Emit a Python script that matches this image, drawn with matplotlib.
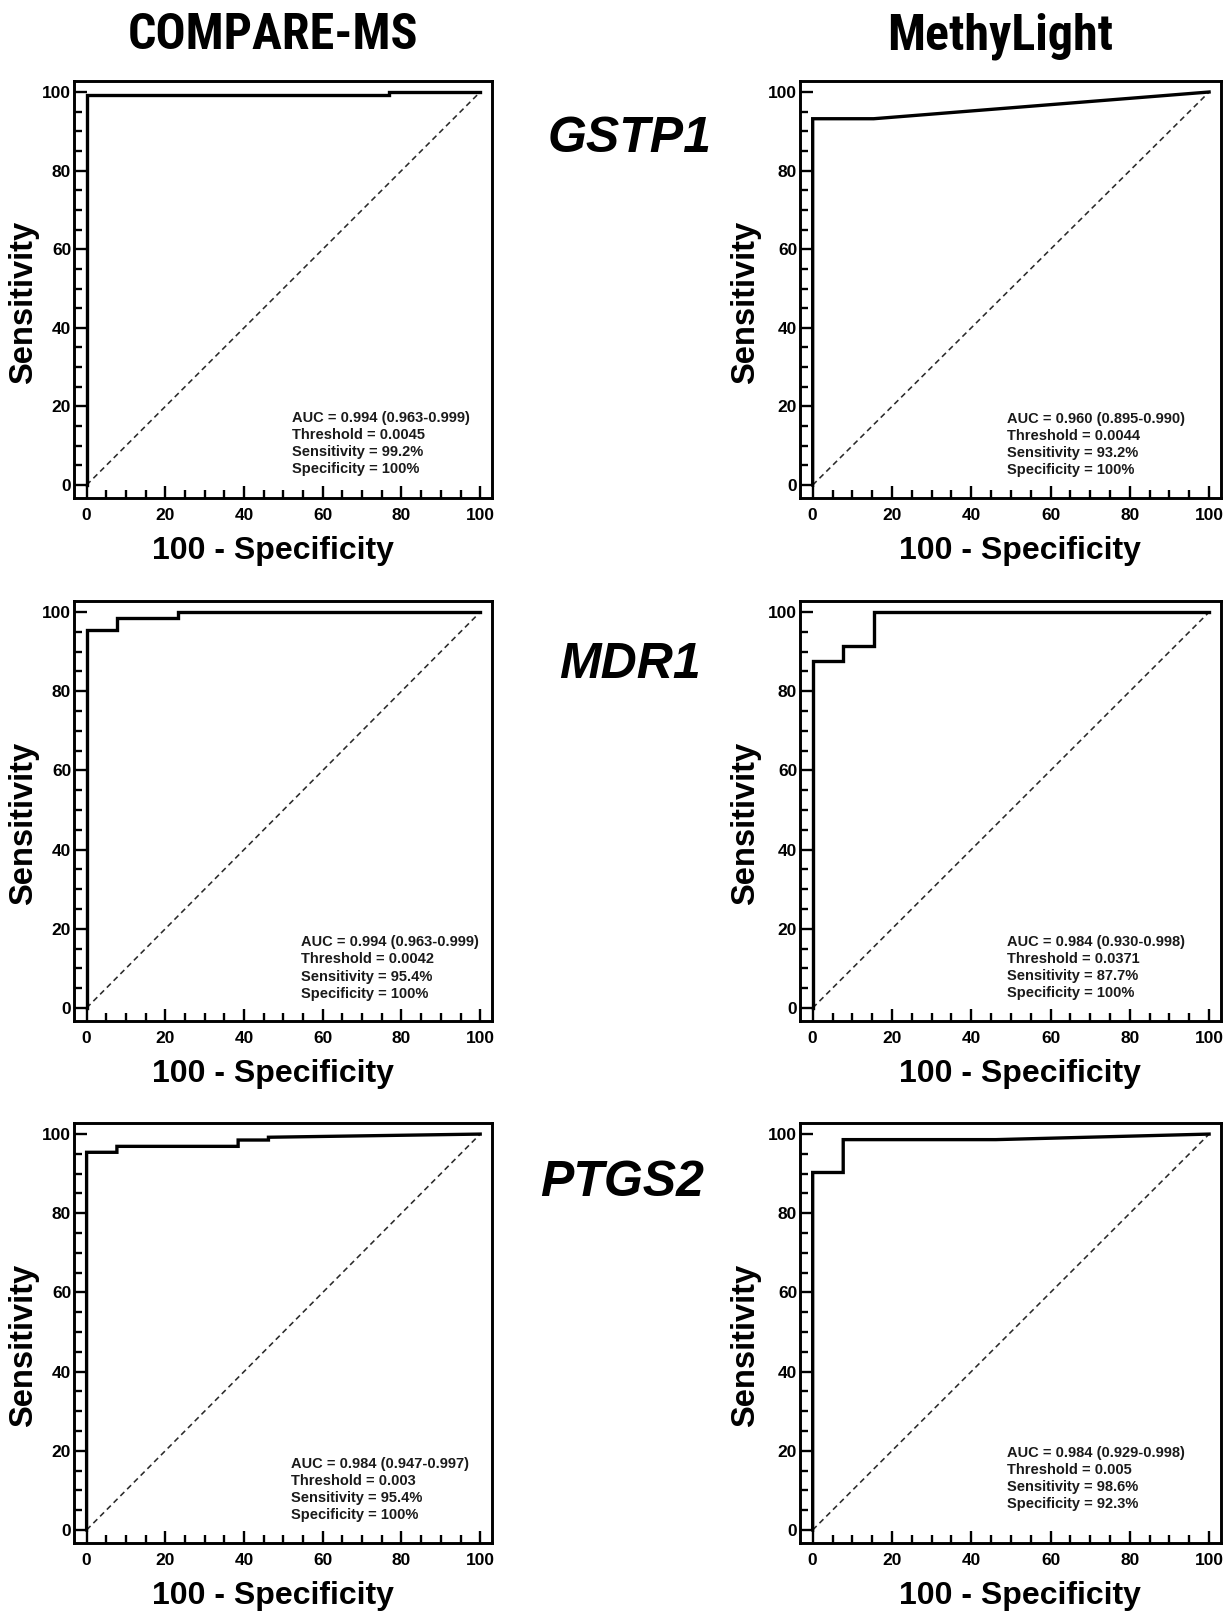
import matplotlib
matplotlib.use('Agg')
import matplotlib.pyplot as plt
from matplotlib import font_manager as fm
from matplotlib.ticker import MultipleLocator


def has_font(name):
    try:
        fm.findfont(fm.FontProperties(family=name, weight='bold'), fallback_to_default=False)
        return True
    except ValueError:
        return False


def find_condensed_bold():
    # look for any installed narrow / condensed bold sans face
    prefs = ['liberationsansnarrow', 'arialnarrow', 'robotocondensed', 'opensanscondensed',
             'dejavusanscondensed', 'notosanscondensed']
    found = {}
    for f in fm.fontManager.ttflist:
        key = f.fname.lower().replace('-', '').replace('_', '').replace(' ', '')
        if 'italic' in key or 'oblique' in key:
            continue
        is_bold = f.weight in ('bold', 700) or (isinstance(f.weight, int) and f.weight >= 600)
        if not is_bold:
            continue
        for p in prefs:
            if p in key:
                found.setdefault(p, f.fname)
    for p in prefs:
        if p in found:
            return found[p]
    return None


base_font = 'Liberation Sans' if has_font('Liberation Sans') else 'DejaVu Sans'
cond_file = find_condensed_bold()
plt.rcParams['font.family'] = [base_font, 'DejaVu Sans']
plt.rcParams['font.weight'] = 'bold'

methods = ['COMPARE-MS', 'MethyLight']
genes = ['GSTP1', 'MDR1', 'PTGS2']

# ROC curves: x = 100 - specificity, y = sensitivity
gstp1_cms_x = [0, 0, 76.9, 76.9, 100]
gstp1_cms_y = [0, 99.2, 99.2, 100, 100]
gstp1_ml_x = [0, 0, 15.4, 100]
gstp1_ml_y = [0, 93.2, 93.2, 100]
mdr1_cms_x = [0, 0, 7.7, 7.7, 23.1, 23.1, 100]
mdr1_cms_y = [0, 95.4, 95.4, 98.5, 98.5, 100, 100]
mdr1_ml_x = [0, 0, 7.7, 7.7, 15.4, 15.4, 100]
mdr1_ml_y = [0, 87.7, 87.7, 91.5, 91.5, 100, 100]
ptgs2_cms_x = [0, 0, 7.7, 7.7, 38.5, 38.5, 46.2, 46.2, 100]
ptgs2_cms_y = [0, 95.4, 95.4, 96.9, 96.9, 98.5, 98.5, 99.2, 100]
ptgs2_ml_x = [0, 0, 7.7, 7.7, 46.2, 100]
ptgs2_ml_y = [0, 90.3, 90.3, 98.6, 98.6, 100]

curves = [[(gstp1_cms_x, gstp1_cms_y), (gstp1_ml_x, gstp1_ml_y)],
          [(mdr1_cms_x, mdr1_cms_y), (mdr1_ml_x, mdr1_ml_y)],
          [(ptgs2_cms_x, ptgs2_cms_y), (ptgs2_ml_x, ptgs2_ml_y)]]

auc = [['0.994 (0.963-0.999)', '0.960 (0.895-0.990)'],
       ['0.994 (0.963-0.999)', '0.984 (0.930-0.998)'],
       ['0.984 (0.947-0.997)', '0.984 (0.929-0.998)']]
threshold = [['0.0045', '0.0044'],
             ['0.0042', '0.0371'],
             ['0.003', '0.005']]
sensitivity = [['99.2%', '93.2%'],
               ['95.4%', '87.7%'],
               ['95.4%', '98.6%']]
specificity = [['100%', '100%'],
               ['100%', '100%'],
               ['100%', '92.3%']]

# layout (pixels of a 1231x1612 figure)
W, H = 1231, 1612
col_px = [(74, 492), (800, 1221)]
row_px = [(81, 498), (601, 1021), (1123, 1543)]
# data position of the left end of the last stats line (baseline)
text_pos = [[(52.3, 3.1), (49.1, 2.8)],
            [(54.6, 2.6), (49.1, 2.8)],
            [(51.9, 2.7), (49.1, 5.6)]]
xlabel_x = [0.476, 0.523]
ylabel_x = [-0.12, -0.13]
gene_xy = [(630, 152), (630, 678), (622, 1196)]
title_x = [273, 1000]

fig = plt.figure(figsize=(W / 100, H / 100), dpi=100)

for r in range(3):
    for c in range(2):
        x0, x1 = col_px[c]
        top, bot = row_px[r]
        ax = fig.add_axes([x0 / W, 1 - bot / H, (x1 - x0) / W, (bot - top) / H])
        xs, ys = curves[r][c]
        ax.plot([0, 100], [0, 100], color='#2a2a2a', lw=1.15, dashes=(3.5, 2.5))
        ax.plot(xs, ys, color='black', lw=2.4, solid_joinstyle='miter')
        ax.set_xlim(-3.2, 103)
        ax.set_ylim(-3.3, 102.8)
        ax.xaxis.set_major_locator(MultipleLocator(20))
        ax.xaxis.set_minor_locator(MultipleLocator(5))
        ax.yaxis.set_major_locator(MultipleLocator(20))
        ax.yaxis.set_minor_locator(MultipleLocator(5))
        ax.tick_params(which='both', direction='in', width=1.7, colors='black')
        ax.tick_params(which='major', length=9, labelsize=12.5)
        ax.tick_params(axis='x', which='major', pad=7)
        ax.tick_params(axis='y', which='major', pad=2)
        ax.tick_params(which='minor', length=5.5)
        for lab in ax.get_xticklabels() + ax.get_yticklabels():
            lab.set_fontweight('bold')
        for sp in ax.spines.values():
            sp.set_linewidth(2.1)

        ax.set_xlabel('100 - Specificity', fontsize=23, fontweight='bold')
        ax.xaxis.label.set_va('baseline')
        ax.xaxis.set_label_coords(xlabel_x[c], -61 / (bot - top))
        ax.set_ylabel('Sensitivity', fontsize=23.5, fontweight='bold')
        ax.yaxis.label.set_va('center')
        ax.yaxis.label.set_ha('center')
        ax.yaxis.set_label_coords(ylabel_x[c], 0.47)

        tx, ty = text_pos[r][c]
        stats = ('AUC = ' + auc[r][c] + '\n'
                 'Threshold = ' + threshold[r][c] + '\n'
                 'Sensitivity = ' + sensitivity[r][c] + '\n'
                 'Specificity = ' + specificity[r][c])
        ax.text(tx, ty, stats, fontsize=10.5, fontweight='bold', color='#1a1a1a',
                ha='left', va='baseline', linespacing=1.28)

for c, m in enumerate(methods):
    if cond_file:
        fp = fm.FontProperties(fname=cond_file, size=36)
        fig.text(title_x[c] / W, 1 - 49 / H, m, ha='center', va='baseline',
                 fontproperties=fp)
    else:
        fig.text(title_x[c] / W, 1 - 49 / H, m, ha='center', va='baseline',
                 fontsize=31, fontweight='bold')

for g, (gx, gy) in zip(genes, gene_xy):
    fig.text(gx / W, 1 - gy / H, g, ha='center', va='baseline', fontsize=36,
             fontweight='bold', style='italic')

fig.savefig('out.png', dpi=100, facecolor='white')
